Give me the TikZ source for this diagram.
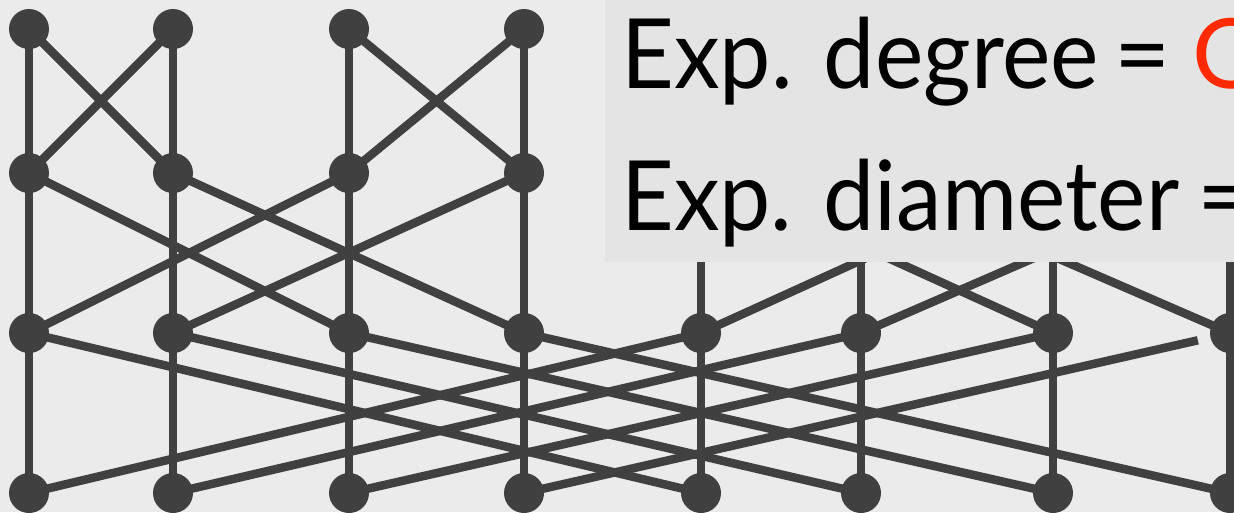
\documentclass[tikz,border=0pt]{standalone}
\usepackage{fontspec}
\setmainfont{Lato}
\definecolor{netgray}{HTML}{404040}
\definecolor{pagebg}{HTML}{EBEBEB}
\definecolor{panelbg}{HTML}{E4E4E4}
\definecolor{hilite}{HTML}{FF2A00}
\begin{document}
\begin{tikzpicture}[x=1pt,y=-1pt,
  vtx/.style={circle,fill=netgray,inner sep=0pt,minimum size=40pt},
  wire/.style={draw=netgray,line width=8.5pt},
  label/.style={anchor=base west,inner sep=0pt,font=\fontsize{97}{110}\selectfont}]
\useasboundingbox (0,0) rectangle (1234,512);
\fill[pagebg] (0,0) rectangle (1234,512);
\clip (0,0) rectangle (1234,512);
% butterfly vertices: 4 levels x 8 columns
\foreach \x [count=\c from 0] in {29,173,349,524,701,861,1053,1230}
  \foreach \y [count=\r from 0] in {29,173,333,493}
    \node[vtx] (n\r-\c) at (\x,\y) {};
% straight and cross edges between consecutive levels (cross distance 1, 2, 4)
\foreach \r/\d in {0/1,1/2,2/4} {
  \pgfmathtruncatemacro\nextlvl{\r+1}
  \foreach \c in {0,...,7} {
    \pgfmathtruncatemacro\partner{mod(floor(\c/\d),2)==0 ? \c+\d : \c-\d}
    \pgfmathtruncatemacro\isshort{(\r==2)&&(\c==7)}
    \draw[wire] (n\r-\c.center) -- (n\nextlvl-\c.center);
    \ifnum\isshort=0 \draw[wire] (n\r-\c.center) -- (n\nextlvl-\partner.center);\fi
  }
}
% this cross edge stops short of its upper vertex
\draw[wire, shorten <=33pt] (n2-7.center) -- (n3-3.center);
% text panel
\node[fill=panelbg, inner sep=0pt, minimum width=640pt, minimum height=262pt, anchor=north west] (panel) at (605,0) {};
\node[label] (t1a) at (621,88) {\resizebox{478pt}{\height}{Exp. degree}};
\node[label, anchor=base] (t1b) at (1143,88) {=};
\node[label, text=hilite] (t1c) at (1192,88) {O};
\node[label] (t2a) at (621,230) {\resizebox{558pt}{\height}{Exp. diameter}};
\node[label, anchor=base] (t2b) at (1226,230) {=};
\end{tikzpicture}
\end{document}
